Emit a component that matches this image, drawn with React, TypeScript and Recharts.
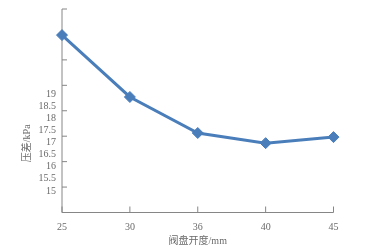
import React from 'react';
import { LineChart, Line, XAxis, YAxis, Label } from 'recharts';

const openings = ['25', '30', '36', '40', '45'];
const pressureDrop = [21.41, 18.85, 17.36, 16.94, 17.19];
const labelTicks = [15, 15.5, 16, 16.5, 17, 17.5, 18, 18.5, 19];
const markTicks = [0, 1, 2, 3, 4, 5, 6, 7, 8];

const data = openings.map((x, i) => ({ x, y: pressureDrop[i] }));

const AXIS = '#868686';
const TEXT = '#6a6a6a';
const BLUE = '#4a7ebb';
const FONT = '"Liberation Serif", "Noto Sans CJK SC", serif';

const Diamond = (props: any) => {
    const { cx, cy, index } = props;
    if (cx == null || cy == null) return <g key={index} />;
    const r = 5.5;
    return (
        <path
            key={index}
            d={`M${cx},${cy - r}L${cx + r},${cy}L${cx},${cy + r}L${cx - r},${cy}Z`}
            fill={BLUE}
            stroke={BLUE}
        />
    );
};

const NoLabel = (props: any) => <g key={props.index} />;

const YTitle = (props: any) => {
    const { viewBox } = props;
    const x = viewBox.x + viewBox.width - 35;
    const y = viewBox.y + viewBox.height * 0.66;
    return (
        <text
            x={x}
            y={y}
            transform={`rotate(-90, ${x}, ${y})`}
            textAnchor="middle"
            dominantBaseline="central"
            fill={TEXT}
            fontSize={10}
            fontFamily={FONT}
        >
            压差/kPa
        </text>
    );
};

const App: React.FC = () => {
    return (
        <div style={{ position: 'fixed', left: 0, top: 0 }}>
            <LineChart
                width={371}
                height={249}
                data={data}
                margin={{ top: 9, right: 37.5, bottom: 0, left: 0 }}
            >
                <XAxis
                    dataKey="x"
                    height={36.5}
                    interval={0}
                    stroke={AXIS}
                    tickSize={-6}
                    tickMargin={16}
                    tick={{ fill: TEXT, fontSize: 10, fontFamily: FONT }}
                >
                    <Label
                        value="阀盘开度/mm"
                        position="insideBottom"
                        offset={5}
                        fill={TEXT}
                        fontSize={10}
                        fontFamily={FONT}
                    />
                </XAxis>
                <YAxis
                    yAxisId="labels"
                    orientation="left"
                    type="number"
                    width={62}
                    domain={[14.07, 22.49]}
                    ticks={labelTicks}
                    interval={0}
                    allowDataOverflow
                    axisLine={false}
                    tickLine={false}
                    tickSize={0}
                    tickMargin={6}
                    tick={{ fill: TEXT, fontSize: 10, fontFamily: FONT }}
                    label={<YTitle />}
                />
                <YAxis
                    yAxisId="marks"
                    orientation="left"
                    mirror
                    type="number"
                    domain={[0, 8]}
                    ticks={markTicks}
                    interval={0}
                    allowDataOverflow
                    stroke={AXIS}
                    tickSize={5}
                    tick={NoLabel}
                />
                <Line
                    yAxisId="labels"
                    type="linear"
                    dataKey="y"
                    stroke={BLUE}
                    strokeWidth={3}
                    dot={Diamond}
                    activeDot={false}
                    isAnimationActive={false}
                />
            </LineChart>
        </div>
    );
};

export default App;
